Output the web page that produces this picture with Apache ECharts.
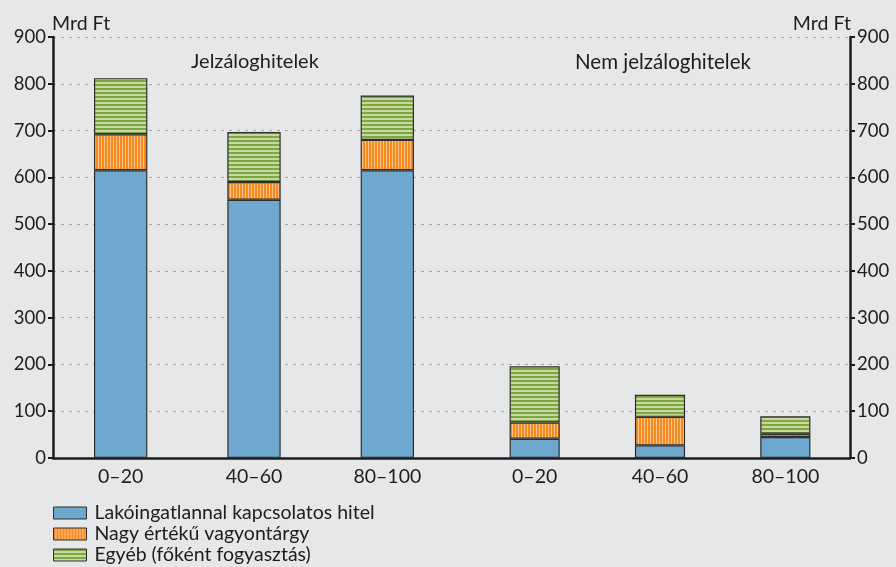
<!DOCTYPE html>
<html>
<head>
<meta charset="utf-8">
<script src="https://cdn.jsdelivr.net/npm/echarts@6/dist/echarts.min.js"></script>
<style>
  html, body { margin: 0; padding: 0; background: #e6e7e8; }
  #chart { width: 896px; height: 567px; }
</style>
</head>
<body>
<div id="chart"></div>
<script>
// Loan-to-value bands (per cent) for each loan group
const mortgageBands = ['0–20', '40–60', '80–100'];
const nonMortgageBands = ['0–20', '40–60', '80–100'];

// Outstanding amounts, billion HUF (Mrd Ft)
const mortgageResidential = [615, 552, 615];
const mortgageDurable = [77, 38, 65];
const mortgageOther = [120, 107, 95];

const nonMortgageResidential = [41, 27, 45];
const nonMortgageDurable = [35, 61, 7];
const nonMortgageOther = [120, 47, 37];

const seriesNames = [
  'Lakóingatlannal kapcsolatos hitel',
  'Nagy értékű vagyontárgy',
  'Egyéb (főként fogyasztás)'
];
const groupTitles = ['Jelzáloghitelek', 'Nem jelzáloghitelek'];
const axisUnit = 'Mrd Ft';
const yTicks = [0, 100, 200, 300, 400, 500, 600, 700, 800, 900];

const FONT = 'Lato';
const TEXT = '#1f1c1d';

// Striped fills for the patterned segments
function stripes(vertical, period, darkPx, dark, light) {
  const c = document.createElement('canvas');
  c.width = vertical ? period : 8;
  c.height = vertical ? 8 : period;
  const g = c.getContext('2d');
  g.fillStyle = light;
  g.fillRect(0, 0, c.width, c.height);
  g.fillStyle = dark;
  if (vertical) g.fillRect(0, 0, darkPx, c.height);
  else g.fillRect(0, 0, c.width, darkPx);
  return { image: c, repeat: 'repeat' };
}
const blueFill = '#6fa8ce';
const orangeFill = stripes(true, 3, 2, '#f58a1f', '#fcc48e');
const greenFill = stripes(false, 4, 2, '#7ea641', '#c6d9a0');
const fills = [blueFill, orangeFill, greenFill];

const chart = echarts.init(document.getElementById('chart'));

function txt(size) {
  return { fontFamily: FONT, fontSize: size, color: TEXT };
}

function bandAxis(gridIndex, data) {
  return {
    type: 'category', gridIndex, data,
    axisLine: { show: false }, axisTick: { show: false },
    axisLabel: Object.assign({ margin: 9 }, txt(19.5))
  };
}
function hiddenValueAxis(gridIndex) {
  return { type: 'value', gridIndex, min: 0, max: 900, interval: 100, show: false };
}
function frameValueAxis(position, showSplit) {
  const left = position === 'left';
  return {
    type: 'value', gridIndex: 0, position,
    min: 0, max: 900, interval: 100,
    name: axisUnit, nameLocation: 'end', nameGap: 3,
    nameTextStyle: Object.assign({ align: left ? 'left' : 'right', padding: left ? [0, 0, 0, -1] : [0, -1, 0, 0] }, txt(19.5)),
    axisLine: { show: true, lineStyle: { color: TEXT, width: 2.5 } },
    axisTick: { show: true, length: 5, lineStyle: { color: TEXT, width: 2 } },
    axisLabel: Object.assign({ margin: 7, formatter: v => yTicks.includes(v) ? String(v) : '' }, txt(18.5)),
    splitLine: { show: showSplit, lineStyle: { color: '#a3a4a6', type: [3, 5], width: 1 } }
  };
}

function barSeries(name, idx, axisIdx, stack, data) {
  return {
    name, type: 'bar', stack,
    xAxisIndex: axisIdx, yAxisIndex: axisIdx + 1,
    barCategoryGap: '60%',
    data,
    itemStyle: { color: fills[idx], borderColor: '#2e2e2e', borderWidth: 1.2 },
    emphasis: { disabled: true }
  };
}

const option = {
  backgroundColor: '#e6e7e8',
  animation: false,
  textStyle: { fontFamily: FONT },
  title: [
    { text: groupTitles[0], left: 186, top: 47, textStyle: Object.assign({ fontWeight: 'normal' }, txt(20)) },
    { text: groupTitles[1], left: 570, top: 47, textStyle: Object.assign({ fontWeight: 'normal' }, txt(20.5)) }
  ],
  legend: {
    orient: 'vertical', left: 48, top: 498, height: 75,
    icon: 'rect',
    itemWidth: 33, itemHeight: 12, itemGap: 1,
    data: seriesNames,
    selectedMode: false,
    textStyle: Object.assign({ padding: [0, 0, 0, 3], lineHeight: 17 }, txt(19.5)),
    itemStyle: { borderColor: '#2e2e2e', borderWidth: 1 }
  },
  grid: [
    { left: 53, right: 46, top: 37, bottom: 109 },
    { left: 54, width: 400, top: 37, bottom: 109 },
    { left: 472, width: 376, top: 37, bottom: 109 }
  ],
  xAxis: [
    {
      type: 'category', gridIndex: 0, data: [''],
      axisLine: { show: true, lineStyle: { color: TEXT, width: 2.5 } },
      axisTick: { show: false }, axisLabel: { show: false }
    },
    bandAxis(1, mortgageBands),
    bandAxis(2, nonMortgageBands)
  ],
  yAxis: [
    frameValueAxis('left', true),
    frameValueAxis('right', false),
    hiddenValueAxis(1),
    hiddenValueAxis(2)
  ],
  series: [
    barSeries(seriesNames[0], 0, 1, 'm', mortgageResidential),
    barSeries(seriesNames[1], 1, 1, 'm', mortgageDurable),
    barSeries(seriesNames[2], 2, 1, 'm', mortgageOther),
    barSeries(seriesNames[0], 0, 2, 'n', nonMortgageResidential),
    barSeries(seriesNames[1], 1, 2, 'n', nonMortgageDurable),
    barSeries(seriesNames[2], 2, 2, 'n', nonMortgageOther)
  ]
};

chart.setOption(option);
</script>
</body>
</html>
